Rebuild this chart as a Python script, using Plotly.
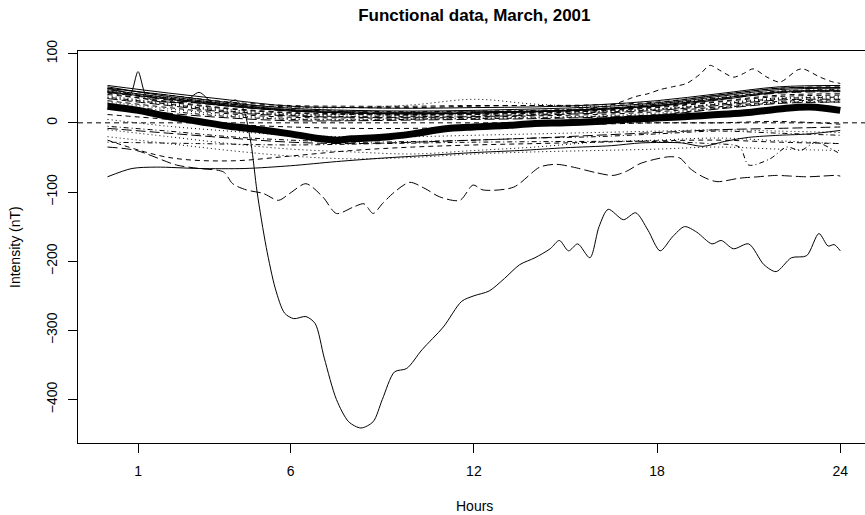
import plotly.graph_objects as go

# ---------------- data ----------------
hours = [0, 2, 4, 6, 8, 10, 12, 14, 16, 18, 20, 22, 24]

# upper bundle of quiet days
day01 = [54, 43, 33, 24, 22, 21, 22, 23, 26, 32, 42, 52, 54]
day02 = [50, 40, 30, 25, 24, 24, 25, 25, 26, 30, 40, 50, 52]
day03 = [47, 37, 28, 22, 22, 26, 34, 27, 24, 28, 36, 44, 46]
day04 = [46, 35, 26, 19, 17, 16, 17, 18, 21, 26, 36, 46, 48]
day05 = [44, 33, 24, 17, 15, 14, 15, 17, 20, 25, 34, 43, 45]
day06 = [52, 38, 27, 19, 16, 15, 16, 17, 20, 27, 38, 48, 50]
day07 = [41, 31, 21, 15, 13, 12, 13, 15, 18, 23, 31, 40, 42]
day08 = [39, 28, 19, 13, 12, 13, 14, 15, 17, 20, 28, 36, 38]
day09 = [37, 27, 17, 11, 9, 9, 10, 12, 15, 19, 27, 35, 37]
day10 = [35, 25, 15, 10, 8, 8, 9, 11, 14, 18, 25, 33, 34]
day11 = [48, 36, 25, 18, 14, 13, 14, 16, 19, 24, 33, 44, 46]
day12 = [32, 22, 13, 8, 7, 7, 8, 10, 12, 16, 23, 31, 33]
day13 = [30, 20, 11, 6, 5, 6, 7, 8, 10, 14, 22, 30, 31]
day14 = [28, 17, 9, 5, 4, 5, 6, 7, 9, 12, 21, 29, 30]
day15 = [26, 14, 7, 3, 3, 4, 5, 6, 8, 11, 20, 28, 30]
day16 = [45, 34, 24, 17, 14, 13, 14, 16, 19, 25, 35, 45, 47]
day17 = [43, 30, 20, 14, 12, 11, 12, 14, 17, 22, 30, 38, 40]
day18 = [36, 26, 16, 12, 10, 11, 12, 13, 16, 20, 26, 34, 35]
day19 = [50, 40, 29, 21, 18, 17, 18, 20, 23, 29, 40, 50, 51]

# lower spread
day20 = [12, 5, -2, -6, -8, -8, -6, -4, -2, 0, 0, 2, -2]
day21 = [5, -5, -12, -18, -20, -20, -18, -16, -14, -12, -10, -12, -14]
day22 = [-5, -12, -20, -25, -28, -27, -25, -22, -20, -16, -12, -15, -18]
day23 = [-10, -20, -30, -38, -42, -45, -40, -35, -28, -25, -22, -26, -30]
day24 = [-8, -15, -22, -28, -30, -28, -25, -22, -18, -14, -10, -8, -6]
day25 = [-20, -30, -40, -48, -52, -50, -45, -42, -40, -38, -35, -38, -40]
day26 = [-25, -50, -55, -48, -40, -35, -32, -30, -28, -26, -25, -28, -30]

# low solid day
day27_h = [0, 0.8, 1.6, 3.0, 4.5, 6.0, 7.5, 9.0, 10.5, 12.0, 13.5, 15.0, 16.5, 17.5, 18.8, 19.5, 20.2, 21.0, 22.0, 23.0, 24.0]
day27 = [-78, -66, -64, -66, -66, -62, -56, -51, -47, -43, -40, -36, -33, -29, -29, -34, -27, -21, -18, -16, -11]

# right-hand dash-dot day
day28_h = [0, 3, 6, 9, 12, 15, 18, 19.7, 20.7, 21.0, 21.7, 22.25, 22.7, 23.2, 23.8, 24.0]
day28 = [-28, -30, -32, -30, -28, -27, -27, -30, -35, -61, -52, -35, -40, -28, -40, -45]

# upper dashed day that climbs at the end
day29_h = [0, 2, 4, 6, 8, 10, 12, 14, 15, 16, 16.6, 17.3, 17.7, 18.1, 18.5, 18.97, 19.4, 19.73, 20.05, 20.5, 20.82, 21.15, 21.6, 22.03, 22.58, 22.78, 23.34, 23.76, 24.0]
day29 = [45, 35, 27, 23, 22, 22, 24, 25, 24, 22, 27, 38, 42, 48, 52, 57, 70, 83, 76, 66, 71, 78, 66, 59, 76, 78, 66, 59, 57]

# long-dashed disturbed day
day30_h = [0, 0.95, 2.26, 3.0, 3.8, 4.1, 4.55, 5.1, 5.6, 5.97, 6.5, 7.05, 7.5, 8.04, 8.4, 8.7, 9.0, 9.4, 9.9, 10.4, 10.88, 11.54, 11.97, 12.3, 13.3, 14.16, 14.7, 15.25, 16.0, 16.56, 17.0, 17.44, 18.0, 18.42, 18.75, 19.08, 19.5, 19.96, 20.7, 21.3, 21.9, 22.4, 22.9, 23.4, 23.88, 24.0]
day30 = [-35, -40, -61, -66, -71, -88, -97, -102, -112, -102, -88, -107, -131, -122, -117, -131, -117, -100, -86, -95, -107, -112, -90, -97, -93, -64, -60, -64, -72, -76, -70, -59, -52, -49, -51, -66, -78, -85, -80, -78, -76, -77, -78, -77, -76, -77]

# storm day
day31_h = [0, 0.5, 0.75, 1.0, 1.25, 1.5, 2.0, 2.5, 3.0, 3.4, 3.7, 4.0, 4.2, 4.45, 4.7, 4.9, 5.2, 5.5, 5.8, 6.1, 6.5, 6.8, 7.1, 7.5, 7.9, 8.3, 8.7, 9.0, 9.4, 9.8, 10.3, 11.0, 11.6, 12.0, 12.5, 13.0, 13.5, 14.0, 14.5, 14.8, 15.1, 15.4, 15.8, 16.1, 16.4, 16.9, 17.3, 17.7, 18.1, 18.5, 18.9, 19.3, 19.8, 20.1, 20.5, 21.0, 21.5, 21.9, 22.4, 22.9, 23.3, 23.6, 23.8, 24.0]
day31 = [50, 45, 42, 74, 40, 32, 30, 30, 44, 30, 25, 30, 33, 20, -30, -100, -180, -240, -275, -283, -280, -290, -340, -400, -432, -441, -432, -400, -360, -355, -328, -295, -258, -250, -243, -225, -205, -195, -182, -170, -185, -175, -195, -150, -125, -140, -130, -155, -185, -165, -150, -158, -175, -170, -182, -175, -205, -215, -195, -192, -160, -178, -176, -185]

# thick mean curve
mean_h = [0, 1, 2, 3, 4, 5, 6, 7, 7.5, 8, 9, 10, 11, 12, 13, 14, 15, 16, 17, 18, 19, 20, 21, 22, 23, 24]
mean_v = [24, 18, 9, 2, -5, -10, -16, -23, -25, -23, -21, -16, -9, -6, -4, -1, 0, 2, 5, 7, 9, 12, 15, 20, 23, 18]

x_ticks = [1, 6, 12, 18, 24]
y_ticks = [100, 0, -100, -200, -300, -400]
y_ticktext = ["100", "0", "\u2212100", "\u2212200", "\u2212300", "\u2212400"]

# ---------------- styles ----------------
DASH = {
    "solid": "solid",
    "dash": "5px,4px",
    "dot": "1px,3px",
    "dotdash": "1px,3px,5px,3px",
    "longdash": "10px,4px",
}

grid_curves = [
    (day01, "solid"), (day02, "dash"), (day03, "dot"), (day04, "dotdash"), (day05, "longdash"),
    (day06, "solid"), (day07, "dash"), (day08, "dot"), (day09, "dotdash"), (day10, "longdash"),
    (day11, "solid"), (day12, "dash"), (day13, "dot"), (day14, "dotdash"), (day15, "longdash"),
    (day16, "solid"), (day17, "dash"), (day18, "dot"), (day19, "solid"),
    (day20, "dash"), (day21, "dot"), (day22, "dotdash"), (day23, "dot"), (day24, "longdash"),
    (day25, "dot"), (day26, "dash"),
]
free_curves = [
    (day27_h, day27, "solid"),
    (day28_h, day28, "dotdash"),
    (day29_h, day29, "dash"),
    (day30_h, day30, "longdash"),
    (day31_h, day31, "solid"),
]

fig = go.Figure()
for vals, sty in grid_curves:
    fig.add_trace(go.Scatter(x=hours, y=vals, mode="lines",
                             line=dict(color="black", width=1, dash=DASH[sty], shape="spline", smoothing=1),
                             hoverinfo="skip", showlegend=False))
for hx, vals, sty in free_curves:
    fig.add_trace(go.Scatter(x=hx, y=vals, mode="lines",
                             line=dict(color="black", width=1, dash=DASH[sty], shape="spline", smoothing=0.8),
                             hoverinfo="skip", showlegend=False))
fig.add_trace(go.Scatter(x=mean_h, y=mean_v, mode="lines",
                         line=dict(color="black", width=7, shape="spline", smoothing=1),
                         hoverinfo="skip", showlegend=False))

# horizontal reference line at 0
fig.add_shape(type="line", xref="paper", yref="y", x0=0, x1=1, y0=0, y1=0,
              line=dict(color="black", width=1, dash="5px,4px"))

FONT = "Liberation Sans, Arial, Helvetica, sans-serif"

fig.update_layout(
    width=865, height=515,
    margin=dict(l=78, r=0, t=51, b=72),
    paper_bgcolor="white", plot_bgcolor="white",
    font=dict(family=FONT, size=14, color="black"),
    title=dict(text="<b>Functional data, March, 2001</b>", font=dict(size=17, family=FONT, color="black"),
               x=0.5036, xref="paper", xanchor="center", y=1 - 15 / 515, yref="container", yanchor="middle"),
    xaxis=dict(range=[-0.966, 24.81], tickmode="array", tickvals=x_ticks, ticks="outside", ticklen=9,
               tickcolor="black", showline=True, linecolor="black", linewidth=1, mirror=True,
               showgrid=False, zeroline=False, ticklabelstandoff=6, tickfont=dict(size=14)),
    yaxis=dict(range=[-462.7, 103.8], tickmode="array", tickvals=y_ticks, ticktext=y_ticktext,
               ticks="outside", ticklen=9, tickcolor="black", tickangle=-90,
               showline=True, linecolor="black", linewidth=1, mirror=False,
               showgrid=False, zeroline=False, ticklabelstandoff=5, tickfont=dict(size=14)),
    annotations=[
        dict(text="Hours", xref="paper", yref="paper", x=0.5036, y=-(506 - 443) / 392,
             xanchor="center", yanchor="middle", showarrow=False, font=dict(size=14)),
        dict(text="Intensity (nT)", xref="paper", yref="paper", x=-(78 - 15) / 787, y=0.5,
             xanchor="center", yanchor="middle", textangle=-90, showarrow=False, font=dict(size=14)),
    ],
)

fig.write_html("out.html")
